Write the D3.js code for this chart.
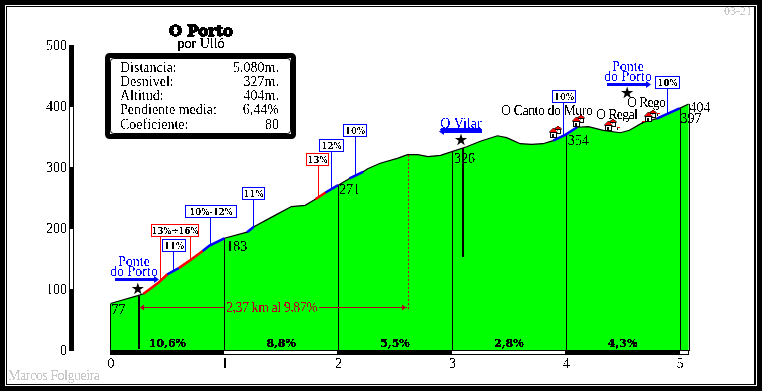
<!DOCTYPE html>
<html>
<head>
<meta charset="utf-8">
<script src="https://d3js.org/d3.v7.min.js"></script>
<style>
    html, body { margin: 0; padding: 0; background: #000; overflow: hidden; }
    svg { display: block; font-family: "Liberation Serif", serif; }
</style>
</head>
<body>
<svg id="drawing_region" width="762" height="391"></svg>
<script>
// profile
const km = [0, 0.24, 0.29, 0.42, 0.50, 0.60, 0.70, 0.81, 0.87, 1.00, 1.20, 1.26, 1.38, 1.49, 1.59, 1.71, 1.80,
    1.89, 2.00, 2.10, 2.22, 2.26, 2.37, 2.52, 2.61, 2.70, 2.79, 2.90, 3.00, 3.13, 3.25, 3.40, 3.48, 3.60,
    3.70, 3.80, 3.89, 4.00, 4.10, 4.20, 4.33, 4.48, 4.56, 4.68, 4.80, 5.00, 5.08];
const altitude = [77, 90, 93, 111, 125, 135, 148, 163, 172, 184, 194, 203, 215, 226, 236, 238, 248,
    259, 271, 282, 293, 298, 307, 315, 321, 321, 318, 320, 326, 334, 343, 352, 349, 339,
    338, 339, 344, 354, 366, 367, 361, 357, 361, 374, 380, 397, 404];

const xTicks = [0, 1, 2, 3, 4, 5];
const yTicks = [0, 100, 200, 300, 400, 500];
const slopeLabels = ["10,6%", "8,8%", "5,5%", "2,8%", "4,3%"];

const altLabels = ["77", "183", "271", "326", "354", "397", "404"];
const altLabelKm = [0, 1, 2, 3, 4, 5, 5.08];

const steepFrom = [0.29, 0.50, 0.60, 0.81, 1.20, 1.80, 1.89, 2.10, 3.89, 4.80];
const steepTo = [0.50, 0.60, 0.81, 1.00, 1.26, 1.89, 2.00, 2.22, 4.10, 5.00];
const steepKind = ["red", "blue", "red", "blue", "blue", "red", "blue", "blue", "blue", "blue"];

const flagLabels = ["13%÷16%", "11%", "10%-12%", "11%", "13%", "12%", "10%", "10%", "10%"];
const flagKm = [[0.435, 0.70], [0.55], [0.875], [1.25], [1.82], [1.94], [2.145], [3.98], [4.89]];
const flagKind = ["red", "blue", "blue", "blue", "red", "blue", "blue", "blue", "blue"];

const statNames = ["Distancia:", "Desnivel:", "Altitud:", "Pendiente media:", "Coeficiente:"];
const statValues = ["5.080m.", "327m.", "404m.", "6,44%", "80"];

const houseKm = [3.91, 4.11, 4.39, 4.74];
const houseAlt = [358, 376, 369, 385];
const crossKm = [4.46, 4.68, 4.81];
const crossAlt = [364, 375, 387];

const colors = { green: "#00ff00", red: "#ff0000", blue: "#0000ff", dark: "#b80020", grey: "#c8c8c8" };

const svg = d3.select("#drawing_region");

// alias the type like the old bitmap picture
const defs = svg.append("defs");
const filter = defs.append("filter").attr("id", "hard")
    .attr("filterUnits", "userSpaceOnUse")
    .attr("x", 0).attr("y", 0).attr("width", 762).attr("height", 391)
    .attr("color-interpolation-filters", "sRGB");
filter.append("feComponentTransfer").append("feFuncA")
    .attr("type", "discrete").attr("tableValues", "0 0 1 1");

const xscale = d3.scaleLinear().domain([0, 5]).range([110.5, 679.5]);
const yscale = d3.scaleLinear().domain([0, 500]).range([350.5, 45.5]);

const altAt = k => {
    const i = Math.max(1, d3.bisectLeft(km, k));
    const t = (k - km[i - 1]) / (km[i] - km[i - 1]);
    return altitude[i - 1] + t * (altitude[i] - altitude[i - 1]);
};

// frame
svg.append("rect").attr("x", 5.5).attr("y", 5.5).attr("width", 751).attr("height", 380)
    .attr("fill", "none").attr("stroke", "#fff");
svg.append("rect").attr("x", 6.5).attr("y", 6.5).attr("width", 748).attr("height", 378)
    .attr("fill", "#fff").attr("stroke", "#000");

// layers, bottom to top
const ground = svg.append("g");
const shapes = svg.append("g").attr("shape-rendering", "crispEdges");
const steep = svg.append("g");
const marks = svg.append("g");
const type = svg.append("g").attr("filter", "url(#hard)");

// profile
const points = km.map((k, i) => [k, altitude[i]]);
const area = d3.area().x(d => xscale(d[0])).y0(yscale(0)).y1(d => yscale(d[1]));
const line = d3.line().x(d => xscale(d[0])).y(d => yscale(d[1]));

ground.append("path").attr("d", area(points)).attr("fill", colors.green);
ground.append("path").attr("d", line(points)).attr("fill", "none").attr("stroke", "#000").attr("stroke-width", 1.2);

// km dividers
shapes.selectAll("line.div").data(xTicks.slice(1).concat(5.08)).enter().append("line")
    .attr("x1", d => Math.round(xscale(d)) + 0.5).attr("x2", d => Math.round(xscale(d)) + 0.5)
    .attr("y1", d => yscale(altAt(d))).attr("y2", yscale(0))
    .attr("stroke", "#000");
shapes.append("line").attr("x1", xscale(0)).attr("x2", xscale(0))
    .attr("y1", yscale(77)).attr("y2", yscale(0)).attr("stroke", "#000");

// steep stretches
steep.selectAll("path").data(steepFrom).enter().append("path")
    .attr("d", (d, i) => line(points.filter(p => p[0] >= d && p[0] <= steepTo[i])))
    .attr("fill", "none").attr("stroke-width", 2.5)
    .attr("stroke", (d, i) => colors[steepKind[i]]);

// x axis bar, alternate black and white per km
const xBar = xTicks.concat(5.08);
shapes.selectAll("rect.xbar").data(xBar.slice(0, -1)).enter().append("rect")
    .attr("x", d => xscale(d) - 0.5).attr("y", 350)
    .attr("width", (d, i) => xscale(xBar[i + 1]) - xscale(d)).attr("height", 4)
    .attr("fill", (d, i) => i % 2 ? "#fff" : "#000")
    .attr("stroke", "#000");

// y axis bar
shapes.selectAll("rect.ybar").data(yTicks.slice(0, -1)).enter().append("rect")
    .attr("x", 69.5).attr("y", d => yscale(d + 100))
    .attr("width", 4).attr("height", d => yscale(d) - yscale(d + 100))
    .attr("fill", (d, i) => i % 2 ? "#fff" : "#000")
    .attr("stroke", "#000");

// axes labels
const xaxis = d3.axisBottom(xscale).tickValues(xTicks).tickFormat(d3.format("d")).tickSize(0).tickPadding(0);
type.append("g").attr("transform", "translate(0,358)").call(xaxis)
    .call(g => g.select(".domain").remove())
    .call(g => g.selectAll("text").attr("font-size", 14).attr("fill", "#000"))
    .attr("font-family", "Liberation Serif");
const yaxis = d3.axisLeft(yscale).tickValues(yTicks).tickFormat(d3.format("d")).tickSize(0).tickPadding(0);
type.append("g").attr("transform", "translate(67,0)").call(yaxis)
    .call(g => g.select(".domain").remove())
    .call(g => g.selectAll("text").attr("font-size", 14).attr("fill", "#000"))
    .attr("font-family", "Liberation Serif");

// slope per km
type.selectAll("text.slope").data(slopeLabels).enter().append("text")
    .attr("x", (d, i) => xscale(i + 0.5)).attr("y", 347)
    .attr("text-anchor", "middle").attr("font-size", 11).attr("font-weight", "bold")
    .attr("font-family", "DejaVu Serif").attr("stroke", "#000").attr("stroke-width", 0.3)
    .text(d => d);

// altitude labels
const altLabelDy = [10, 13, 9, 11, 10, 15, 8];
const altLabelDx = [1, 2, 1, 2, 2, 1, 1];
type.selectAll("text.alt").data(altLabels).enter().append("text")
    .attr("x", (d, i) => xscale(altLabelKm[i]) + altLabelDx[i])
    .attr("y", (d, i) => yscale(altAt(altLabelKm[i])) + altLabelDy[i])
    .attr("font-size", 14).attr("fill", "#000")
    .text(d => d);

// 2,37 km stretch
const stretchFrom = 0.24, stretchTo = 2.61;
const stretchY = 307.5;
shapes.append("line").attr("x1", Math.round(xscale(stretchTo)) + 0.5).attr("x2", Math.round(xscale(stretchTo)) + 0.5)
    .attr("y1", yscale(altAt(stretchTo))).attr("y2", 310)
    .attr("stroke", colors.dark).attr("stroke-dasharray", "2,2");
shapes.append("line").attr("x1", xscale(stretchFrom) + 2).attr("x2", xscale(1)).attr("y1", stretchY).attr("y2", stretchY).attr("stroke", colors.dark);
shapes.append("line").attr("x1", 319).attr("x2", xscale(stretchTo) - 1).attr("y1", stretchY).attr("y2", stretchY).attr("stroke", colors.dark);
marks.append("path").attr("d", `M140,${stretchY}l4,-3v6z`).attr("fill", colors.dark);
marks.append("path").attr("d", `M406,${stretchY}l-4,-3v6z`).attr("fill", colors.dark);
type.append("text").attr("x", 226).attr("y", 311.5).attr("font-size", 14).attr("fill", colors.dark)
    .attr("textLength", 92).text("2,37 km al 9,87%");

// flags over the steep stretches
const flagBoxes = [[151, 224, 47], [162, 239, 23], [185, 205, 51], [242, 187, 22], [306, 153, 22], [319, 139, 24], [343, 124, 23], [552, 90, 23], [655, 76, 24]];
flagLabels.forEach((label, i) => {
    const box = flagBoxes[i];
    const color = colors[flagKind[i]];
    flagKm[i].forEach(k => {
        shapes.append("line").attr("x1", Math.round(xscale(k)) + 0.5).attr("x2", Math.round(xscale(k)) + 0.5)
            .attr("y1", box[1]).attr("y2", yscale(altAt(k)))
            .attr("stroke", color);
    });
    shapes.append("rect").attr("x", box[0] + 0.5).attr("y", box[1] + 0.5)
        .attr("width", box[2]).attr("height", 12)
        .attr("fill", "#fff").attr("stroke", color);
    type.append("text").attr("x", box[0] + box[2] / 2 + 0.5).attr("y", box[1] + 10)
        .attr("text-anchor", "middle").attr("font-size", 8.5).attr("font-weight", "bold")
        .attr("font-family", "DejaVu Serif").attr("fill", "#000")
        .text(label);
});

// markers
const markerKm = [0.24, 3.08, 4.54];
const markerLines = [["Ponte", "do Porto"], ["O Vilar"], ["Ponte", "do Porto"]];
const markerDir = [1, -1, 1];
const markerTextX = [134, 461, 628];
const markerArrowY = [279.5, 131.5, 84.5];
const markerArrowFrom = [115, 482, 607];
const markerArrowTo = [157, 441, 649];
const markerStarY = [289, 140, 93];

markerKm.forEach((k, i) => {
    marks.append("path")
        .attr("d", d3.symbol(d3.symbolStar, 46)())
        .attr("transform", `translate(${xscale(k)},${markerStarY[i]})`)
        .attr("fill", "#000");
    shapes.append("line").attr("x1", markerArrowFrom[i]).attr("x2", markerArrowTo[i])
        .attr("y1", markerArrowY[i]).attr("y2", markerArrowY[i])
        .attr("stroke", colors.blue).attr("stroke-width", 3);
    const d = markerDir[i];
    marks.append("path")
        .attr("d", `M${markerArrowTo[i] + d * 2},${markerArrowY[i]}l${-d * 5},-3.5v7z`)
        .attr("fill", colors.blue);
    markerLines[i].forEach((t, j) => {
        type.append("text").attr("x", markerTextX[i])
            .attr("y", markerArrowY[i] - 4 - (markerLines[i].length - 1 - j) * 10)
            .attr("text-anchor", "middle").attr("font-size", 14).attr("fill", colors.blue)
            .attr("text-decoration", markerLines[i].length == 1 ? "underline" : null)
            .text(t);
    });
});
// thick black poles
shapes.append("line").attr("x1", 138.5).attr("x2", 138.5).attr("y1", yscale(altAt(0.24))).attr("y2", 349)
    .attr("stroke", "#000").attr("stroke-width", 2);
shapes.append("line").attr("x1", 462.5).attr("x2", 462.5).attr("y1", 148).attr("y2", 257)
    .attr("stroke", "#000").attr("stroke-width", 2);

// villages
const villageNames = ["O Canto do Muro", "O Regal", "O Rego"];
const villageX = [501, 596, 627];
const villageY = [115, 119, 107];
type.selectAll("text.village").data(villageNames).enter().append("text")
    .attr("x", (d, i) => villageX[i]).attr("y", (d, i) => villageY[i])
    .attr("font-size", 14).attr("fill", "#000")
    .attr("textLength", (d, i) => [92, 42, 39][i])
    .text(d => d);

// little houses, one behind the other
const houses = marks.selectAll("g.house").data(houseKm).enter().append("g")
    .attr("shape-rendering", "crispEdges")
    .attr("transform", (d, i) => `translate(${Math.round(xscale(d))},${Math.round(yscale(houseAlt[i]))})`);
houses.append("rect").attr("x", 0.5).attr("y", -2.5).attr("width", 5).attr("height", 4).attr("fill", "#fff").attr("stroke", "#000");
houses.append("path").attr("d", "M-1,-3L3,-6L7,-3z").attr("fill", colors.red).attr("stroke", "#000").attr("stroke-width", 0.5);
houses.append("rect").attr("x", -4.5).attr("y", 0.5).attr("width", 6).attr("height", 5).attr("fill", "#fff").attr("stroke", "#000");
houses.append("path").attr("d", "M-6,0L-1.5,-4L3,0z").attr("fill", colors.red).attr("stroke", "#000").attr("stroke-width", 0.5);
houses.append("rect").attr("x", -3).attr("y", 2).attr("width", 2).attr("height", 3).attr("fill", "#000");

// small roadside marks
const crosses = marks.selectAll("g.cross").data(crossKm).enter().append("g")
    .attr("shape-rendering", "crispEdges")
    .attr("transform", (d, i) => `translate(${Math.round(xscale(d))},${Math.round(yscale(crossAlt[i]))})`);
crosses.append("rect").attr("x", -1).attr("y", -1).attr("width", 3).attr("height", 1).attr("fill", colors.red);
crosses.append("rect").attr("x", -1).attr("y", 0).attr("width", 1).attr("height", 2).attr("fill", "#000");

// stat box
svg.append("rect").attr("x", 107.5).attr("y", 55.5).attr("width", 186).attr("height", 81).attr("rx", 2)
    .attr("fill", "#fff").attr("stroke", "#000").attr("stroke-width", 5);
svg.append("rect").attr("x", 110.5).attr("y", 58.5).attr("width", 180).attr("height", 75).attr("rx", 3)
    .attr("fill", "none").attr("stroke", "#000");
const statY = [72, 86, 100, 114, 129];
type.selectAll("text.statname").data(statNames).enter().append("text")
    .attr("x", 120).attr("y", (d, i) => statY[i]).attr("font-size", 14).text(d => d);
type.selectAll("text.statvalue").data(statValues).enter().append("text")
    .attr("x", 279).attr("y", (d, i) => statY[i]).attr("text-anchor", "end").attr("font-size", 14).text(d => d);

// titles
type.append("text").attr("x", 201).attr("y", 36).attr("text-anchor", "middle")
    .attr("font-size", 15).attr("font-weight", "bold").attr("font-family", "DejaVu Serif")
    .attr("stroke", "#000").attr("stroke-width", 1.4)
    .text("O Porto");
type.append("text").attr("x", 201).attr("y", 48).attr("text-anchor", "middle")
    .attr("font-size", 14).attr("stroke", "#000").attr("stroke-width", 0.2).text("por Ulló");

// signatures
type.append("text").attr("x", 8).attr("y", 380).attr("font-size", 14).attr("fill", colors.grey)
    .attr("textLength", 92).text("Marcos Folgueira");
type.append("text").attr("x", 724).attr("y", 15).attr("font-size", 12).attr("fill", colors.grey)
    .text("03-21");

// keep the type above the stat box
type.raise();
</script>
</body>
</html>
